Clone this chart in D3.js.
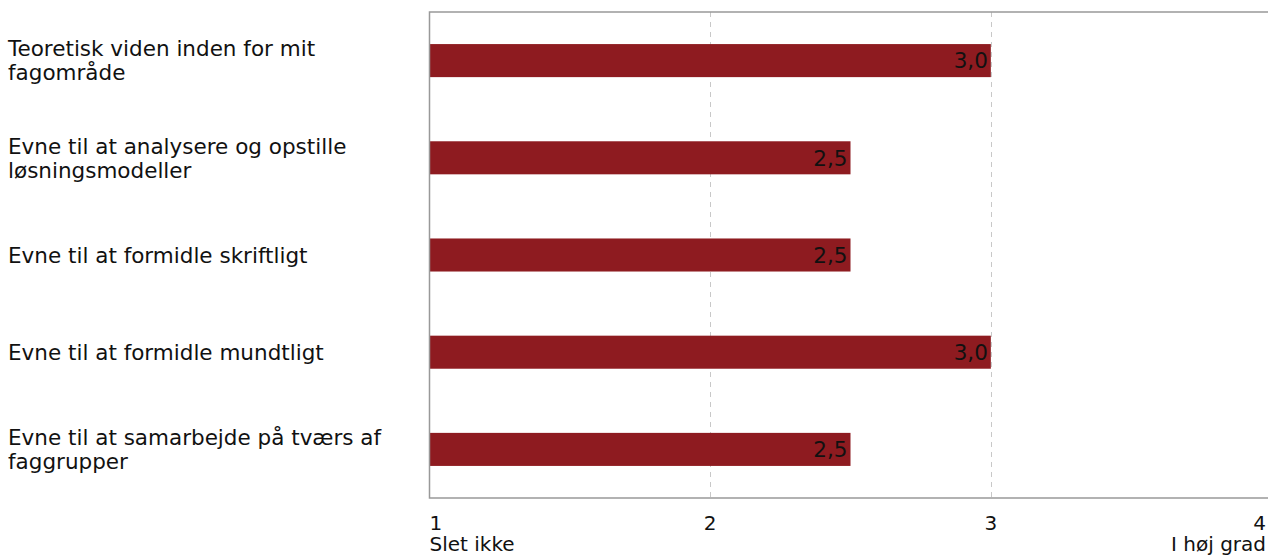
<!DOCTYPE html>
<html><head><meta charset="utf-8">
<script src="https://cdn.jsdelivr.net/npm/d3@7"></script>
<style>body{margin:0;background:#fff}svg{display:block}text{font-family:"DejaVu Sans",sans-serif}</style>
</head><body><svg id="c" width="1268" height="556"></svg>
<script>
const categories = ["Teoretisk viden inden for mit fagområde","Evne til at analysere og opstille løsningsmodeller","Evne til at formidle skriftligt","Evne til at formidle mundtligt","Evne til at samarbejde på tværs af faggrupper"];
const values = [3.0, 2.5, 2.5, 3.0, 2.5];
const tickValues = [1, 2, 3, 4];
const tickSub = ["Slet ikke", "", "", "I høj grad"];

const svg = d3.select("#c");
const W = 1268, H = 556;
const m = {l: 429.5, t: 12, r: 1271.5, b: 498};
const fs = 21.5;
const afs = 20;
const x = d3.scaleLinear().domain([1, 4]).range([m.l, m.r]);
const y = d3.scaleBand().domain(categories).range([m.t, m.b]).paddingInner(0.66).paddingOuter(0.33);

svg.append("g").selectAll("line").data([2, 3]).join("line")
  .attr("x1", d => Math.round(x(d)) + 0.5).attr("x2", d => Math.round(x(d)) + 0.5)
  .attr("y1", m.t).attr("y2", m.b)
  .attr("stroke", "#c8c8c8").attr("stroke-width", 1).attr("stroke-dasharray", "5,5");

svg.append("g").selectAll("rect").data(values).join("rect")
  .attr("x", x(1)).attr("y", (d, i) => y(categories[i]))
  .attr("width", d => x(d) - x(1)).attr("height", y.bandwidth())
  .attr("fill", "#8e1b20");

svg.append("g").selectAll("text").data(values).join("text")
  .attr("x", d => x(d) - 3).attr("y", (d, i) => y(categories[i]) + y.bandwidth() / 2)
  .attr("dy", "0.36em").attr("text-anchor", "end").attr("font-size", fs).attr("fill", "#111")
  .text(d => d.toFixed(1).replace(".", ","));

svg.append("path").attr("d", `M${W},${m.t}H${m.l}V${m.b}H${W}`)
  .attr("fill", "none").attr("stroke", "#999").attr("stroke-width", 1.5);

const maxW = 410;
const cg = svg.append("g");
categories.forEach((c, i) => {
  const t = cg.append("text").attr("font-size", fs).attr("fill", "#111").attr("x", 8);
  const words = c.split(" ");
  const lines = [];
  let cur = [];
  const probe = cg.append("text").attr("font-size", fs);
  words.forEach(w => {
    const test = cur.concat([w]).join(" ");
    probe.text(test);
    if (probe.node().getComputedTextLength() > maxW && cur.length) { lines.push(cur.join(" ")); cur = [w]; }
    else cur.push(w);
  });
  lines.push(cur.join(" "));
  probe.remove();
  const lh = 24;
  const cy = y(c) + y.bandwidth() / 2;
  lines.forEach((l, k) => {
    t.append("tspan").attr("x", 8).attr("y", cy + (k - (lines.length - 1) / 2) * lh).attr("dy", "0.36em").text(l);
  });
});

const ag = svg.append("g");
tickValues.forEach((v, i) => {
  const anchor = i === 0 ? "start" : (i === tickValues.length - 1 ? "end" : "middle");
  const px = i === 0 ? m.l : (i === tickValues.length - 1 ? W - 2 : x(v));
  ag.append("text").attr("font-size", afs).attr("fill", "#111").attr("text-anchor", anchor)
    .attr("x", px).attr("y", 530).text(v);
  if (tickSub[i]) ag.append("text").attr("font-size", afs).attr("fill", "#111").attr("text-anchor", anchor)
    .attr("x", px).attr("y", 550.5).text(tickSub[i]);
});
</script></body></html>
